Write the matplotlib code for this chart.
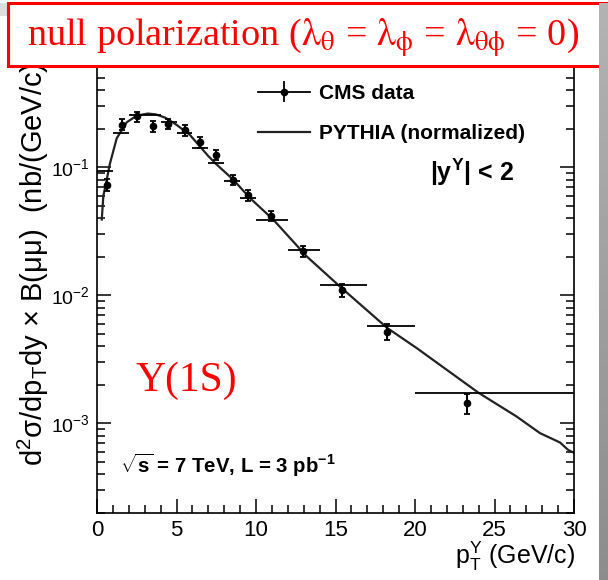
import matplotlib
matplotlib.use('Agg')
import matplotlib.pyplot as plt
import matplotlib.patches as patches
import numpy as np

# CMS Upsilon(1S) data points
bin_lo = [0, 1, 2, 3, 4, 5, 6, 7, 8, 9, 10, 12, 14, 17, 20]
bin_hi = [1, 2, 3, 4, 5, 6, 7, 8, 9, 10, 12, 14, 17, 20, 30]
bin_level = [0.0927, 0.185, 0.253, 0.257, 0.224, 0.185, 0.141, 0.108, 0.0774,
             0.0575, 0.0384, 0.0224, 0.0121, 0.00578, 0.00174]
pt_mean = [0.61, 1.55, 2.5, 3.5, 4.48, 5.53, 6.48, 7.48, 8.53, 9.51, 10.92,
           12.94, 15.4, 18.26, 23.29]
xsec = [0.073, 0.215, 0.249, 0.208, 0.219, 0.194, 0.156, 0.125, 0.0798,
        0.0602, 0.0418, 0.0220, 0.01104, 0.00521, 0.00145]
xsec_err = [0.008, 0.021, 0.022, 0.02, 0.02, 0.018, 0.015, 0.012, 0.0077,
            0.0057, 0.0039, 0.0021, 0.00126, 0.00076, 0.00026]

# PYTHIA (normalized) curve
pythia_pt = [0.3, 0.4, 0.57, 0.8, 1.24, 1.87, 2.3, 2.7, 3.2, 3.7, 4.3, 5.0,
             5.85, 7.0, 7.45, 8.57, 9.62, 11.09, 13.19, 15.39, 18.26, 20.11,
             23.98, 26.4, 27.86, 29.12, 29.64, 30.0]
pythia_val = [0.039, 0.060, 0.075, 0.105, 0.168, 0.224, 0.243, 0.255, 0.262,
              0.258, 0.243, 0.214, 0.178, 0.122, 0.107, 0.0798, 0.0574,
              0.0389, 0.0201, 0.01137, 0.00555, 0.00387, 0.00174, 0.00113,
              0.00084, 0.00071, 0.00062, 0.00059]

xticks = [0, 5, 10, 15, 20, 25, 30]
yticks = [1e-3, 1e-2, 1e-1]
ytick_labels = ['10$^{-3}$', '10$^{-2}$', '10$^{-1}$']

plt.rcParams['font.family'] = ['Liberation Sans', 'DejaVu Sans']
plt.rcParams['mathtext.fontset'] = 'custom'
plt.rcParams['mathtext.rm'] = 'Liberation Sans'
plt.rcParams['mathtext.it'] = 'Liberation Sans:italic'
plt.rcParams['mathtext.bf'] = 'Liberation Sans:bold'

W, H = 608, 580
fig = plt.figure(figsize=(W / 100, H / 100), dpi=100)
ax = fig.add_axes([97 / W, 1 - 513 / H, (574 - 97) / W, (513 - 39) / H])

ax.set_yscale('log')
ax.set_xlim(0, 30)
ax.set_ylim(2e-4, 1)

# PYTHIA curve
ax.plot(pythia_pt, pythia_val, color='#222222', lw=1.6, zorder=2)

# bin-width bars and data points
ax.hlines(bin_level, bin_lo, bin_hi, color='black', lw=1.3, zorder=3)
ax.errorbar(pt_mean, xsec, yerr=xsec_err, fmt='o', color='black', ms=4.5,
            elinewidth=1.5, capsize=2.5, capthick=1.3, zorder=4)

# legend proxies
h_data = ax.errorbar([], [], yerr=[], fmt='o-', color='black', ms=4.5,
                     lw=1.3, elinewidth=1.3, capsize=0, label='CMS data')
h_py, = ax.plot([], [], color='#222222', lw=1.6, label='PYTHIA (normalized)')
leg = ax.legend(handles=[h_data, h_py], loc='upper left',
                bbox_to_anchor=(0.3375, 0.905), frameon=False,
                prop={'weight': 'bold', 'size': 15}, handlelength=2.5,
                handletextpad=0.45, labelspacing=1.0, borderpad=0,
                borderaxespad=0)

ax.text(0.698, 0.719, r'|y$^{\mathbf{\Upsilon}}$| < 2', transform=ax.transAxes,
        fontsize=18, fontweight='bold', ha='left', va='center')
ax.text(0.048, 0.101, r'$\mathbf{\sqrt{s}}$ = 7 TeV, L = 3 pb$^{\mathbf{-1}}$',
        transform=ax.transAxes, fontsize=14.7, fontweight='bold', ha='left',
        va='center')
ax.text(0.08, 0.28, 'Υ(1S)', transform=ax.transAxes, fontsize=30,
        family='Liberation Serif', color='red', ha='left', va='center')

# ticks in ROOT style
ax.set_xticks(xticks)
ax.set_xticklabels([str(t) for t in xticks])
ax.set_xticks(np.arange(0, 31, 1), minor=True)
ax.set_yticks(yticks)
ax.set_yticklabels(ytick_labels)
ax.tick_params(which='both', direction='in', top=True, right=True, width=1.1)
ax.tick_params(which='major', length=10)
ax.tick_params(which='minor', length=5.5)
ax.tick_params(axis='x', labelsize=16, pad=5)
ax.tick_params(axis='y', labelsize=14, pad=5)
for s in ax.spines.values():
    s.set_linewidth(1.2)

fig.text(575 / W, 1 - 556 / H, r'p$_{\mathrm{T}}^{\Upsilon}$ (GeV/c)',
         fontsize=18, ha='right', va='center')
fig.text(33 / W, 1 - 466 / H,
         r'd$^{2}$σ/dp$_{\mathrm{T}}$dy × B(μμ)  (nb/(GeV/c))', fontsize=21,
         rotation=90, ha='center', va='bottom')

# slide overlay: red title box and grey side bar
fig.add_artist(patches.Rectangle((0, 1 - 16 / H), 8 / W, 13 / H,
                                 transform=fig.transFigure, fc='#dddddd',
                                 ec='none', zorder=5))
fig.add_artist(patches.Rectangle((8 / W, 1 - 66 / H), 620 / W, 63 / H,
                                 transform=fig.transFigure, fc='white',
                                 ec='red', lw=2.2, zorder=6))
fig.text(27 / W, 1 - 38 / H,
         r'null polarization ($\mathrm{\lambda}_{\mathrm{\theta}}$ = '
         r'$\mathrm{\lambda}_{\mathrm{\phi}}$ = '
         r'$\mathrm{\lambda}_{\mathrm{\theta\phi}}$ = 0)',
         fontsize=27.5, family='Liberation Serif', math_fontfamily='stix',
         color='red', ha='left', va='center', zorder=7)

gax = fig.add_axes([599 / W, 0, 9 / W, 1 - 3 / H], zorder=10)
grad = np.linspace(0.70, 0.55, 100).reshape(-1, 1)
gax.imshow(grad, aspect='auto', cmap='gray', vmin=0, vmax=1)
gax.axis('off')

fig.savefig('out.png', dpi=100)
